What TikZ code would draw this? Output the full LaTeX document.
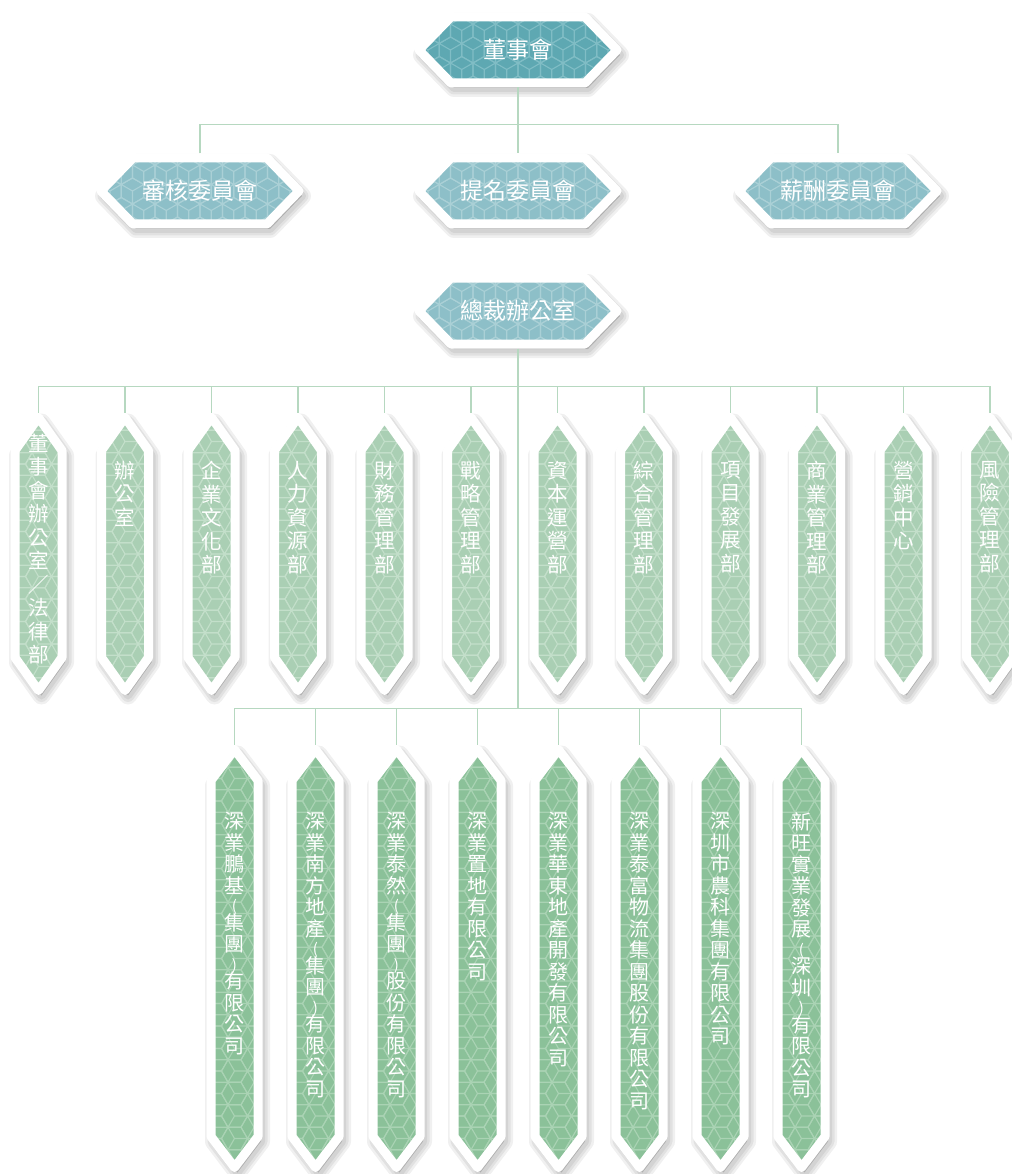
\documentclass[tikz,border=0pt]{standalone}
\usepackage{fontspec}
\usetikzlibrary{positioning}
\newfontfamily\cjk{Noto Sans CJK TC}
\definecolor{boardteal}{RGB}{94,168,178}
\definecolor{boardtealline}{RGB}{128,189,197}
\definecolor{cmteal}{RGB}{141,191,200}
\definecolor{cmtealline}{RGB}{170,208,214}
\definecolor{deptgreen}{RGB}{170,207,180}
\definecolor{deptgreenline}{RGB}{195,223,202}
\definecolor{subgreen}{RGB}{139,193,153}
\definecolor{subgreenline}{RGB}{170,211,180}
\definecolor{linkgreen}{RGB}{182,216,192}

% outlines: half width, half height, chamfer
\newcommand\hexwide[3]{(-#1,0) -- (-#1+#3,-#2) -- (#1-#3,-#2) -- (#1,0) -- (#1-#3,#2) -- (-#1+#3,#2) -- cycle}
\newcommand\hextall[3]{(0,-#2) -- (#1,-#2+#3) -- (#1,#2-#3) -- (0,#2) -- (-#1,#2-#3) -- (-#1,-#2+#3) -- cycle}
% small bracket in a vertical label
\newcommand\vp[1]{{\fontsize{15}{15}\selectfont #1}}

% cube tiling: nx, ny, angle, colour
\newcommand\cubes[4]{%
  \begin{scope}[rotate=#3]
    \foreach \i in {-#1,...,#1}{
      \foreach \j in {-#2,...,#2}{
        \pgfmathsetmacro\cx{(\i+0.5*mod(abs(\j),2))*22.5}
        \pgfmathsetmacro\cy{\j*19.5}
        \draw[cubeline=#4] (\cx,\cy) +(30:13) -- +(90:13) -- +(150:13) -- +(210:13) -- +(270:13) -- +(330:13) -- cycle
          (\cx,\cy) -- +(90:13) (\cx,\cy) -- +(210:13) (\cx,\cy) -- +(330:13);
      }
    }
  \end{scope}}

% name, centre, colour
\newcommand\widebox[3]{%
  \begin{scope}[shift={#2}]
    \foreach \w in {18,13,8}
      \draw[boxshadow, line width=\w, shift={(3,5)}] \hexwide{99}{33}{32};
    \fill[#3] \hexwide{99}{33}{32};
    \begin{scope}
      \clip \hexwide{99}{33}{32};
      \cubes{5}{2}{0}{#3line}
    \end{scope}
    \draw[boxrim] \hexwide{99}{33}{32};
    \node[boxanchor, minimum width=207, minimum height=75] (#1) at (0,0) {};
  \end{scope}}

% name, centre, half height, chamfer, colour
\newcommand\tallbox[5]{%
  \begin{scope}[shift={#2}]
    \foreach \w in {18,13,8}
      \draw[boxshadow, line width=\w, shift={(3,5)}] \hextall{23.5}{#3}{#4};
    \fill[#5] \hextall{23.5}{#3}{#4};
    \begin{scope}
      \clip \hextall{23.5}{#3}{#4};
      \pgfmathtruncatemacro\nx{#3/22.5+1}
      \cubes{\nx}{2}{90}{#5line}
    \end{scope}
    \draw[boxrim] \hextall{23.5}{#3}{#4};
    \node[boxanchor, minimum width=56, minimum height=2*#3+9] (#1) at (0,0) {};
  \end{scope}}

\begin{document}
\begin{tikzpicture}[x=1pt,y=-1pt,
    cubeline/.style={draw=#1, line width=1.1},
    boxshadow/.style={draw=black, fill=black, opacity=0.06, line join=round},
    boxrim/.style={draw=white, line width=9, line join=round},
    boxanchor/.style={inner sep=0, outer sep=0},
    link/.style={draw=linkgreen, line width=1.5},
    widetext/.style={font=\cjk\fontsize{23}{26}\selectfont, text=white},
    depttext/.style={font=\cjk\fontsize{20.5}{23.5}\selectfont, text=white, align=center, inner sep=0},
    subtext/.style={font=\cjk\fontsize{20}{21.5}\selectfont, text=white, align=center, inner sep=0}]
  \useasboundingbox (0,0) rectangle (1011,1174);
  \fill[white] (0,0) rectangle (1011,1174);

  % board and committees
  \widebox{board}{(518,50)}{boardteal}
  \widebox{audit}{(200,191)}{cmteal}
  \widebox{nominate}{(518,191)}{cmteal}
  \widebox{remun}{(838,191)}{cmteal}
  \widebox{ceo}{(518,311)}{cmteal}
  \node[widetext] at (board) {董事會};
  \node[widetext] at (audit) {審核委員會};
  \node[widetext] at (nominate) {提名委員會};
  \node[widetext] at (remun) {薪酬委員會};
  \node[widetext] at (ceo) {總裁辦公室};

  % departments
  \foreach \k in {0,...,11}{
    \tallbox{d\k}{(38.5+86.5*\k,554)}{136.5}{33}{deptgreen}
  }
  \node[depttext, below=21pt of d0.north] {董\\事\\會\\辦\\公\\室\\／\\法\\律\\部};
  \node[depttext, below=48pt of d1.north] {辦\\公\\室};
  \node[depttext, below=48pt of d2.north] {企\\業\\文\\化\\部};
  \node[depttext, below=48pt of d3.north] {人\\力\\資\\源\\部};
  \node[depttext, below=48pt of d4.north] {財\\務\\管\\理\\部};
  \node[depttext, below=48pt of d5.north] {戰\\略\\管\\理\\部};
  \node[depttext, below=48pt of d6.north] {資\\本\\運\\營\\部};
  \node[depttext, below=48pt of d7.north] {綜\\合\\管\\理\\部};
  \node[depttext, below=48pt of d8.north] {項\\目\\發\\展\\部};
  \node[depttext, below=48pt of d9.north] {商\\業\\管\\理\\部};
  \node[depttext, below=48pt of d10.north] {營\\銷\\中\\心};
  \node[depttext, below=48pt of d11.north] {風\\險\\管\\理\\部};

  % subsidiaries
  \foreach \k in {0,...,7}{
    \tallbox{s\k}{(234.5+81*\k,958.5)}{209}{31}{subgreen}
  }
  \node[subtext, below=67pt of s0.north] {深\\業\\鵬\\基\\[-3pt]\vp{(}\\[-3pt]集\\團\\[-3pt]\vp{)}\\[-3pt]有\\限\\公\\司};
  \node[subtext, below=67pt of s1.north] {深\\業\\南\\方\\地\\產\\[-3pt]\vp{(}\\[-3pt]集\\團\\[-3pt]\vp{)}\\[-3pt]有\\限\\公\\司};
  \node[subtext, below=67pt of s2.north] {深\\業\\泰\\然\\[-3pt]\vp{(}\\[-3pt]集\\團\\[-3pt]\vp{)}\\[-3pt]股\\份\\有\\限\\公\\司};
  \node[subtext, below=67pt of s3.north] {深\\業\\置\\地\\有\\限\\公\\司};
  \node[subtext, below=67pt of s4.north] {深\\業\\華\\東\\地\\產\\開\\發\\有\\限\\公\\司};
  \node[subtext, below=67pt of s5.north] {深\\業\\泰\\富\\物\\流\\集\\團\\股\\份\\有\\限\\公\\司};
  \node[subtext, below=67pt of s6.north] {深\\圳\\市\\農\\科\\集\\團\\有\\限\\公\\司};
  \node[subtext, below=67pt of s7.north] {新\\旺\\實\\業\\發\\展\\[-3pt]\vp{(}\\[-3pt]深\\圳\\[-3pt]\vp{)}\\[-3pt]有\\限\\公\\司};

  % connectors
  \coordinate[below=37pt of board.south] (cmbar);
  \coordinate[below=38pt of ceo.south] (deptbar);
  \coordinate[below=360pt of ceo.south] (subbar);
  \draw[link] (board.south) -- (nominate.north);
  \draw[link] (audit.north) |- (cmbar) -| (remun.north);
  \draw[link] (ceo.south) -- (subbar);
  \foreach \k in {0,...,11}
    \draw[link] (deptbar) -| (d\k.north);
  \foreach \k in {0,...,7}
    \draw[link] (subbar) -| (s\k.north);
\end{tikzpicture}
\end{document}
